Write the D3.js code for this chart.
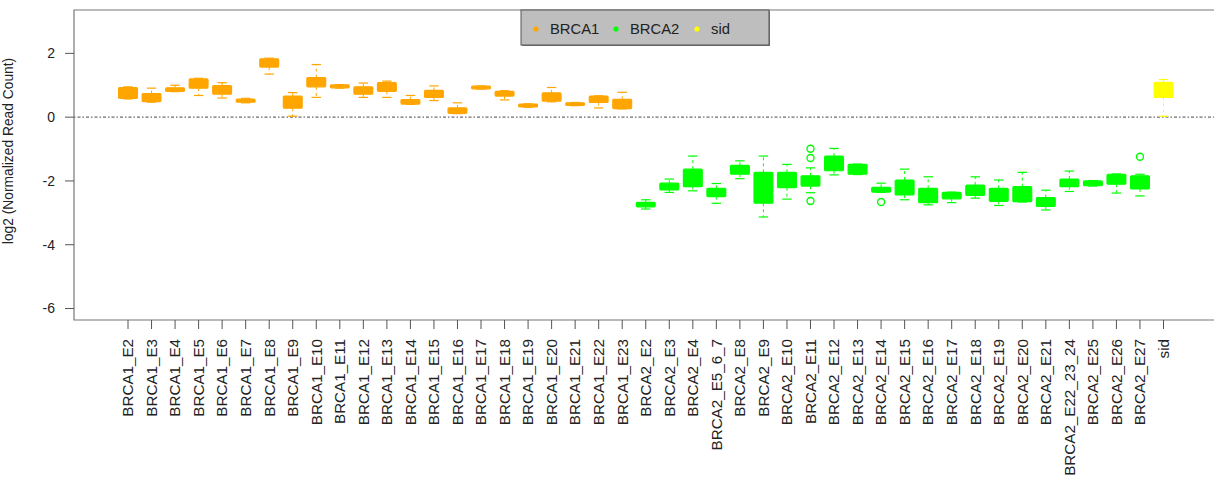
<!DOCTYPE html>
<html><head><meta charset="utf-8">
<script src="https://cdn.jsdelivr.net/npm/d3@7"></script>
<style>body{margin:0;background:#fff}svg{display:block;font-family:"Liberation Sans",Arial,sans-serif}</style>
</head><body><svg id="c" width="1214" height="491"></svg>
<script>
const categories = ["BRCA1_E2","BRCA1_E3","BRCA1_E4","BRCA1_E5","BRCA1_E6","BRCA1_E7","BRCA1_E8","BRCA1_E9","BRCA1_E10","BRCA1_E11","BRCA1_E12","BRCA1_E13","BRCA1_E14","BRCA1_E15","BRCA1_E16","BRCA1_E17","BRCA1_E18","BRCA1_E19","BRCA1_E20","BRCA1_E21","BRCA1_E22","BRCA1_E23",
"BRCA2_E2","BRCA2_E3","BRCA2_E4","BRCA2_E5_6_7","BRCA2_E8","BRCA2_E9","BRCA2_E10","BRCA2_E11","BRCA2_E12","BRCA2_E13","BRCA2_E14","BRCA2_E15","BRCA2_E16","BRCA2_E17","BRCA2_E18","BRCA2_E19","BRCA2_E20","BRCA2_E21","BRCA2_E22_23_24","BRCA2_E25","BRCA2_E26","BRCA2_E27","sid"];
const whiskerHigh = [0.95,0.91,1.00,1.22,1.08,0.59,1.85,0.77,1.65,1.02,1.07,1.13,0.68,0.98,0.45,0.98,0.83,0.42,0.93,0.46,0.67,0.78,
-2.59,-1.94,-1.22,-2.08,-1.37,-1.22,-1.48,-1.59,-0.98,-1.47,-2.07,-1.63,-1.87,-2.35,-1.87,-1.97,-1.73,-2.29,-1.69,-1.99,-1.78,-1.79,1.18];
const q3 = [0.93,0.74,0.92,1.20,0.99,0.57,1.83,0.66,1.24,1.01,0.95,1.08,0.55,0.84,0.29,0.97,0.81,0.41,0.76,0.45,0.66,0.56,
-2.67,-2.07,-1.63,-2.23,-1.51,-1.73,-1.73,-1.84,-1.22,-1.48,-2.20,-1.97,-2.23,-2.36,-2.13,-2.23,-2.18,-2.52,-1.94,-2.00,-1.79,-1.84,1.09];
const q1 = [0.59,0.49,0.81,0.91,0.72,0.47,1.57,0.28,0.95,0.92,0.72,0.81,0.41,0.62,0.12,0.89,0.66,0.32,0.50,0.37,0.46,0.27,
-2.81,-2.28,-2.18,-2.49,-1.79,-2.70,-2.21,-2.16,-1.68,-1.79,-2.35,-2.44,-2.68,-2.56,-2.45,-2.64,-2.65,-2.80,-2.18,-2.15,-2.10,-2.25,0.62];
const whiskerLow = [0.57,0.47,0.80,0.68,0.60,0.45,1.35,0.03,0.62,0.91,0.62,0.62,0.40,0.52,0.11,0.88,0.54,0.31,0.48,0.36,0.29,0.26,
-2.88,-2.36,-2.31,-2.70,-1.93,-3.13,-2.57,-2.37,-1.81,-1.80,-2.36,-2.59,-2.75,-2.68,-2.54,-2.77,-2.66,-2.91,-2.33,-2.16,-2.38,-2.47,0.03];
const outliers = [
  {cat:"BRCA2_E11", value:-0.99},{cat:"BRCA2_E11", value:-1.28},{cat:"BRCA2_E11", value:-2.63},
  {cat:"BRCA2_E14", value:-2.66},{cat:"BRCA2_E27", value:-1.24}];
const yTicks = [-6,-4,-2,0,2];
const groups = ["BRCA1","BRCA2","sid"];
const groupColors = ["#FFA500","#00FF00","#FFFF00"];

const svg = d3.select("#c");
const L=74, T=10, B=320, R=1240;
const x = d3.scaleLinear().domain([1, categories.length]).range([128, 1163.5]);
const y = d3.scaleLinear().domain([-6.36, 3.36]).range([B, T]);
const step = x(2)-x(1), bw = step*0.8, sw = bw*0.5;
const col = d3.scaleOrdinal().domain(groups).range(groupColors);
const groupOf = c => c.startsWith("BRCA1") ? "BRCA1" : c.startsWith("BRCA2") ? "BRCA2" : "sid";

// zero line
svg.append("line").attr("x1",L).attr("x2",R).attr("y1",y(0)).attr("y2",y(0))
  .attr("stroke","#6e6e6e").attr("stroke-width",1.4).attr("stroke-dasharray","1.5 2 3 2");

// boxes
const g = svg.append("g");
categories.forEach((c,i)=>{
  const cx = x(i+1), color = col(groupOf(c));
  const gg = g.append("g");
  gg.append("line").attr("x1",cx).attr("x2",cx).attr("y1",y(q3[i])).attr("y2",y(whiskerHigh[i]))
    .attr("stroke",color).attr("stroke-dasharray","3 3");
  gg.append("line").attr("x1",cx).attr("x2",cx).attr("y1",y(q1[i])).attr("y2",y(whiskerLow[i]))
    .attr("stroke",color).attr("stroke-dasharray","3 3");
  [whiskerHigh[i], whiskerLow[i]].forEach(v=>{
    gg.append("line").attr("x1",cx-sw/2).attr("x2",cx+sw/2).attr("y1",y(v)).attr("y2",y(v))
      .attr("stroke",color).attr("stroke-width",1.2);
  });
  gg.append("rect").attr("x",cx-bw/2).attr("width",bw)
    .attr("y",y(q3[i])).attr("height",Math.max(1,y(q1[i])-y(q3[i])))
    .attr("fill",color).attr("stroke",color).attr("stroke-width",1.2).attr("rx",1);
});
g.selectAll("circle.o").data(outliers).join("circle").attr("class","o")
  .attr("cx",d=>x(categories.indexOf(d.cat)+1)).attr("cy",d=>y(d.value)).attr("r",3.5)
  .attr("fill","none").attr("stroke",d=>col(groupOf(d.cat))).attr("stroke-width",1.4);

// frame
svg.append("path").attr("d",`M${R},${T}H${L}V${B}H${R}`).attr("fill","none").attr("stroke","#777").attr("stroke-width",1.2);

// y axis
const ya = svg.append("g");
yTicks.forEach(t=>{
  ya.append("line").attr("x1",65).attr("x2",L).attr("y1",y(t)).attr("y2",y(t)).attr("stroke","#555");
  ya.append("text").attr("x",55).attr("y",y(t)).attr("dy","0.35em").attr("text-anchor","end")
    .attr("font-size",14).attr("fill","#222").text(t);
});
svg.append("text").attr("transform","translate(13,151) rotate(-90)").attr("text-anchor","middle")
  .attr("font-size",13.8).attr("fill","#222").text("log2 (Normalized Read Count)");

// x axis
const xa = svg.append("g");
categories.forEach((c,i)=>{
  const cx = x(i+1);
  xa.append("line").attr("x1",cx).attr("x2",cx).attr("y1",B).attr("y2",329).attr("stroke","#555");
  xa.append("text").attr("transform",`translate(${cx},339) rotate(-90)`).attr("dy","0.35em")
    .attr("text-anchor","end").attr("font-size",15.2).attr("fill","#222").text(c);
});

// legend
const lg = svg.append("g");
lg.append("rect").attr("x",522).attr("y",11).attr("width",248).attr("height",35).attr("fill","#777");
lg.append("rect").attr("x",521).attr("y",10).attr("width",248).attr("height",35).attr("fill","#BEBEBE").attr("stroke","#555");
const lx = [536, 616, 697];
groups.forEach((gname,i)=>{
  lg.append("circle").attr("cx",lx[i]).attr("cy",29).attr("r",2.6).attr("fill",groupColors[i]);
  lg.append("text").attr("x",lx[i]+14).attr("y",29).attr("dy","0.35em").attr("font-size",14.8).attr("fill","#222").text(gname);
});
</script></body></html>
